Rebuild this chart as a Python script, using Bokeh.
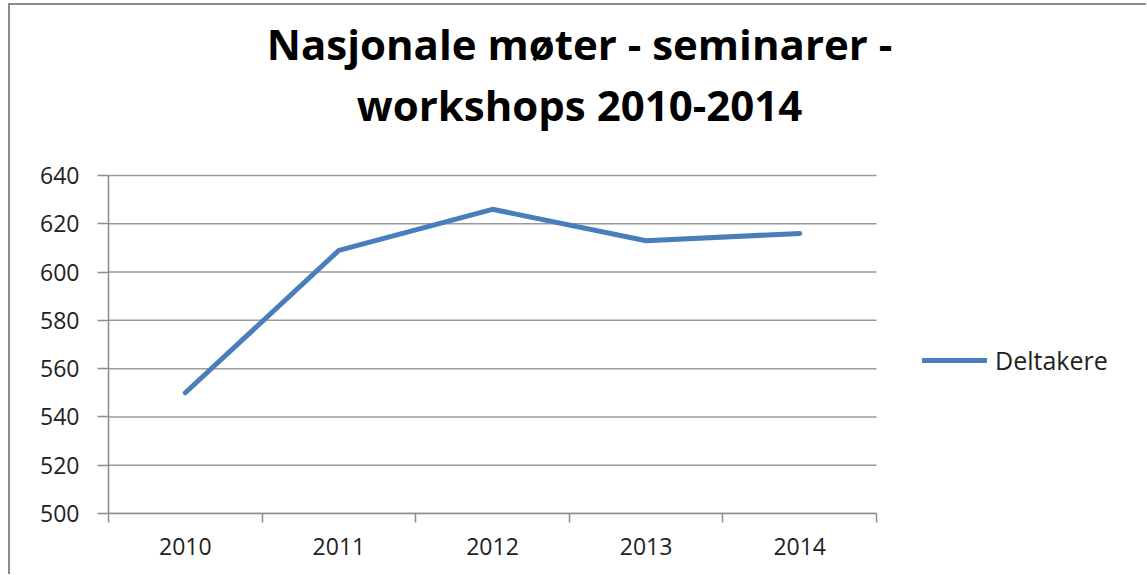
from bokeh.plotting import figure
from bokeh.models import Range1d, FixedTicker, Label, Legend, LegendItem
from bokeh.embed import file_html
from bokeh.resources import INLINE

# ---- data ----
years = ["2010", "2011", "2012", "2013", "2014"]
deltakere = [550, 609, 626, 613, 616]
y_ticks = [500, 520, 540, 560, 580, 600, 620, 640]
title_lines = ["Nasjonale møter - seminarer -", "workshops 2010-2014"]
series_name = "Deltakere"

x_pos = [i + 0.5 for i in range(len(years))]
boundaries = list(range(len(years) + 1))
n = len(years)

FONT = "Open Sans"
GRAY = "#8c8c8c"

# layout (pixels): plot area 768 x 338, frame extended to the right and top
W, H = 1138, 571
ML = 98                      # left border (axis labels)
MB = 63                      # bottom border (x labels)
AREA_W, AREA_H = 768, 338
frame_w = W - ML
frame_h = H - MB
x_end = n * frame_w / AREA_W
y_end = y_ticks[0] + (y_ticks[-1] - y_ticks[0]) * frame_h / AREA_H

p = figure(width=W, height=H,
           x_range=Range1d(0, x_end), y_range=Range1d(y_ticks[0], y_end),
           output_backend="svg", toolbar_location=None,
           min_border_left=ML, min_border_right=0,
           min_border_top=0, min_border_bottom=MB)
p.styles = {"margin-left": "8px", "margin-top": "3px",
            "border-left": "2px solid #8c8c8c", "border-top": "2px solid #8c8c8c"}
p.outline_line_color = None
p.background_fill_color = "white"
p.border_fill_color = "white"
p.xgrid.visible = False
p.ygrid.visible = False

# horizontal gridlines limited to the plot area
p.segment(x0=0, x1=n, y0=y_ticks, y1=y_ticks, line_color="#9a9a9a", line_width=1.5)

r = p.line(x_pos, deltakere, line_color="#4a7ebb", line_width=5, line_cap="round", line_join="round")

# y axis
ya = p.yaxis[0]
ya.ticker = FixedTicker(ticks=y_ticks)
ya.bounds = (y_ticks[0], y_ticks[-1])
ya.axis_line_color = GRAY
ya.axis_line_width = 1.5
ya.major_tick_line_color = GRAY
ya.major_tick_line_width = 1.5
ya.major_tick_out = 11
ya.major_tick_in = 0
ya.minor_tick_out = 0
ya.minor_tick_in = 0
ya.major_label_text_font = FONT
ya.major_label_text_font_size = "23px"
ya.major_label_text_color = "#222222"
ya.major_label_standoff = 18

# x axis
xa = p.xaxis[0]
xa.ticker = FixedTicker(ticks=x_pos, minor_ticks=boundaries)
xa.bounds = (0, n)
xa.major_label_overrides = {x: y for x, y in zip(x_pos, years)}
xa.axis_line_color = GRAY
xa.axis_line_width = 1.5
xa.major_tick_out = 0
xa.major_tick_in = 0
xa.minor_tick_out = 9
xa.minor_tick_in = 0
xa.minor_tick_line_color = GRAY
xa.minor_tick_line_width = 1.5
xa.major_label_text_font = FONT
xa.major_label_text_font_size = "23px"
xa.major_label_text_color = "#222222"
xa.major_label_standoff = 15

# title as two centered labels (screen units relative to frame)
for txt, yy in zip(title_lines, [470, 409]):
    p.add_layout(Label(x=471, y=yy, x_units="screen", y_units="screen", text=txt,
                       text_align="center", text_baseline="alphabetic",
                       text_font=FONT, text_font_style="bold", text_font_size="42px",
                       text_color="#000000"))

legend = Legend(items=[LegendItem(label=series_name, renderers=[r])],
                location=(814, 136), glyph_width=65, glyph_height=20,
                label_standoff=8, padding=0, margin=0, spacing=0,
                border_line_color=None, background_fill_alpha=0,
                label_text_font=FONT, label_text_font_size="25px",
                label_text_color="#222222")
p.add_layout(legend, "center")

open("out.html", "w").write(file_html(p, INLINE))
